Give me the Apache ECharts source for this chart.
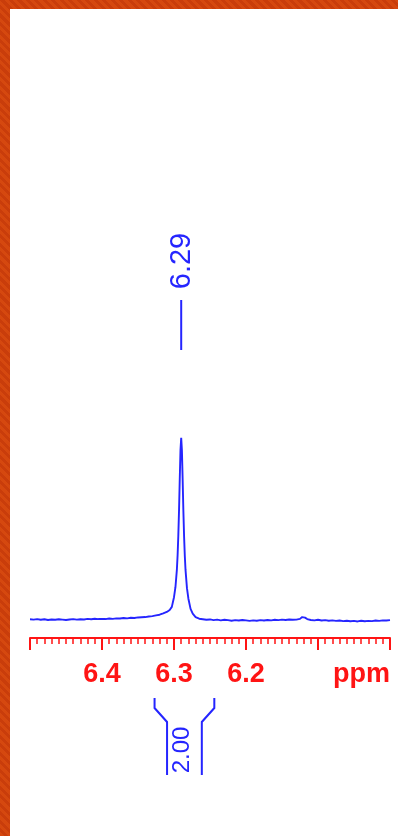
<!DOCTYPE html>
<html>
<head>
<meta charset="utf-8">
<script src="https://cdn.jsdelivr.net/npm/echarts@6/dist/echarts.min.js"></script>
<style>
  html, body { margin: 0; padding: 0; width: 398px; height: 836px; overflow: hidden; }
  body {
    background: repeating-linear-gradient(45deg, #d5480f 0px, #d5480f 3px, #c93d0b 3px, #c93d0b 6px);
  }
  #chart { position: absolute; left: 10px; top: 9px; width: 388px; height: 827px; background: #ffffff; }
</style>
</head>
<body>
<div id="chart"></div>
<script>
// ---- data ----
const ppm = [
  6.500, 6.495, 6.490, 6.485, 6.480, 6.475, 6.470, 6.465, 6.460, 6.455,
  6.450, 6.445, 6.440, 6.435, 6.430, 6.425, 6.420, 6.415, 6.410, 6.405,
  6.400, 6.395, 6.390, 6.385, 6.380, 6.375, 6.370, 6.365, 6.360, 6.355,
  6.350, 6.345, 6.340, 6.335, 6.330, 6.325, 6.320, 6.315, 6.310, 6.306,
  6.303, 6.300, 6.298, 6.296, 6.295, 6.294, 6.293, 6.292, 6.291, 6.290,
  6.289, 6.288, 6.287, 6.286, 6.285, 6.284, 6.282, 6.280, 6.277, 6.274,
  6.270, 6.265, 6.260, 6.255, 6.250, 6.245, 6.240, 6.235, 6.230, 6.225,
  6.220, 6.215, 6.210, 6.205, 6.200, 6.195, 6.190, 6.185, 6.180, 6.175,
  6.170, 6.165, 6.160, 6.155, 6.150, 6.145, 6.140, 6.135, 6.130, 6.125,
  6.122, 6.120, 6.118, 6.115, 6.110, 6.105, 6.100, 6.095, 6.090, 6.085,
  6.080, 6.075, 6.070, 6.065, 6.060, 6.055, 6.050, 6.045, 6.040, 6.035,
  6.030, 6.025, 6.020, 6.015, 6.010, 6.005, 6.000
];
const intensity = [
  0.3, 0.1, 0.4, 0.0, 0.3, -0.1, 0.2, 0.0, 0.3, 0.1,
  -0.1, 0.2, 0.4, 0.1, 0.3, 0.2, 0.5, 0.3, 0.6, 0.4,
  0.5, 0.4, 0.7, 0.5, 0.8, 0.7, 1.0, 0.8, 1.1, 1.0,
  1.3, 1.4, 1.5, 1.8, 2.0, 2.4, 2.8, 3.5, 4.3, 5.4,
  7.1, 12.4, 17.9, 27.6, 35.5, 46.3, 60.4, 77.5, 93.2, 100.0,
  93.0, 77.2, 60.1, 45.9, 35.2, 27.4, 17.4, 11.6, 6.0, 3.4,
  1.5, 0.6, 0.3, 0.0, 0.2, -0.2, 0.1, -0.3, 0.0, -0.2,
  -0.5, -0.2, -0.4, -0.1, -0.3, -0.6, -0.3, -0.5, -0.2, -0.4,
  -0.1, -0.3, 0.0, -0.2, 0.1, -0.1, 0.2, 0.0, 0.1, 0.5,
  1.5, 2.3, 1.2, 0.4, -0.1, -0.3, 0.0, -0.4, -0.2, -0.5,
  -0.3, -0.6, -0.4, -0.7, -0.5, -0.8, -0.6, -0.9, -0.5, -0.8,
  -0.6, -0.7, -0.4, -0.6, -0.3, -0.4, -0.2
];
const xTickLabels = { '6.4': '6.4', '6.3': '6.3', '6.2': '6.2', '6.0': 'ppm' };
const peakPositions = [6.29];
const peakLabels = ['6.29'];
const integralRanges = [[6.327, 6.244]];
const integralValues = ['2.00'];

// ---- chart ----
const BLUE = '#2525ff';
const RED = '#ff1414';
const chart = echarts.init(document.getElementById('chart'), null, { renderer: 'canvas' });
const seriesData = ppm.map((p, i) => [p, intensity[i]]);

chart.setOption({
  animation: false,
  grid: { left: 20, right: 8, top: 83, bottom: 198 },
  xAxis: {
    type: 'value', inverse: true, min: 6.0, max: 6.5, interval: 0.1,
    axisLine: { show: true, onZero: false, lineStyle: { color: RED, width: 2 } },
    axisTick: { show: true, length: 12, lineStyle: { color: RED, width: 2 } },
    minorTick: { show: true, splitNumber: 10, length: 6, lineStyle: { color: RED, width: 1.5 } },
    splitLine: { show: false },
    axisLabel: {
      show: true, showMinLabel: true, showMaxLabel: true, alignMinLabel: 'right',
      margin: 23, color: RED, fontSize: 27, fontWeight: 'bold',
      fontFamily: 'Liberation Sans, Arial, sans-serif',
      formatter: function (v) { return xTickLabels[v.toFixed(1)] || ''; }
    }
  },
  yAxis: { type: 'value', min: -10, max: 290, show: false, splitLine: { show: false } },
  series: [{
    type: 'line', data: seriesData, showSymbol: false, symbol: 'none',
    lineStyle: { color: BLUE, width: 1.9 }, smooth: false
  }]
});

// ---- annotations placed through the axis scale ----
const FONT = 'Liberation Sans, Arial, sans-serif';
const graphics = [];
peakPositions.forEach((p, i) => {
  const x = chart.convertToPixel({ xAxisIndex: 0 }, p);
  graphics.push({ type: 'line', shape: { x1: x, y1: 291, x2: x, y2: 341 }, style: { stroke: BLUE, lineWidth: 2 } });
  graphics.push({
    type: 'text', x: x + 1, y: 252, rotation: Math.PI / 2,
    style: { text: peakLabels[i], fill: BLUE, font: '29px ' + FONT, textAlign: 'center', textVerticalAlign: 'middle' }
  });
});
integralRanges.forEach((r, i) => {
  const xa = chart.convertToPixel({ xAxisIndex: 0 }, r[0]);
  const xb = chart.convertToPixel({ xAxisIndex: 0 }, r[1]);
  const inset = 12.5;
  graphics.push({ type: 'polyline', shape: { points: [[xa, 689], [xa, 699], [xa + inset, 713], [xa + inset, 766]] }, style: { stroke: BLUE, lineWidth: 2, fill: null } });
  graphics.push({ type: 'polyline', shape: { points: [[xb, 689], [xb, 699], [xb - inset, 713], [xb - inset, 766]] }, style: { stroke: BLUE, lineWidth: 2, fill: null } });
  graphics.push({
    type: 'text', x: (xa + xb) / 2 - 2, y: 741, rotation: Math.PI / 2,
    style: { text: integralValues[i], fill: BLUE, font: '24px ' + FONT, textAlign: 'center', textVerticalAlign: 'middle' }
  });
});
chart.setOption({ graphic: graphics });
</script>
</body>
</html>
